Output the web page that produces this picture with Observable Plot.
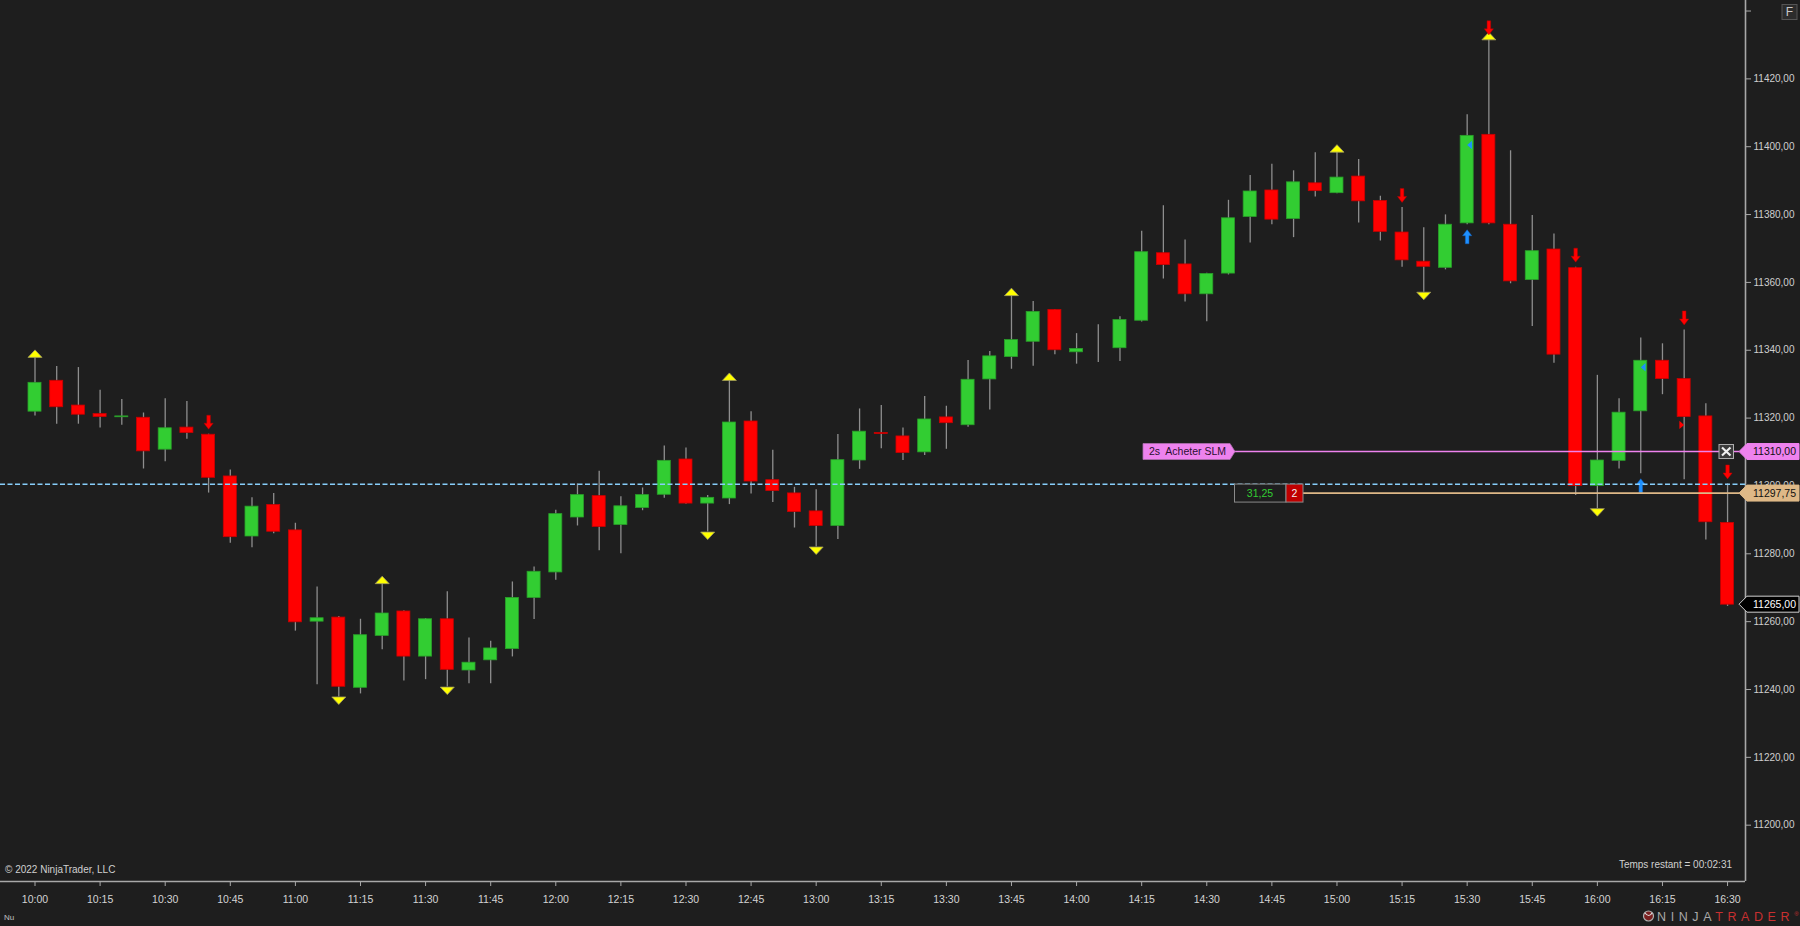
<!DOCTYPE html>
<html><head><meta charset="utf-8">
<script src="https://cdn.jsdelivr.net/npm/d3@7"></script>
<script src="https://cdn.jsdelivr.net/npm/@observablehq/plot@0.6"></script>
<style>
html,body{margin:0;padding:0;background:#1e1e1e;overflow:hidden;}
#chart svg{display:block;}
</style></head><body><div id="chart"></div>
<script>
// ---- data (5-minute bars) ----
const barTimes = ["10:00","10:05","10:10","10:15","10:20","10:25","10:30","10:35","10:40","10:45","10:50","10:55",
  "11:00","11:05","11:10","11:15","11:20","11:25","11:30","11:35","11:40","11:45","11:50","11:55",
  "12:00","12:05","12:10","12:15","12:20","12:25","12:30","12:35","12:40","12:45","12:50","12:55",
  "13:00","13:05","13:10","13:15","13:20","13:25","13:30","13:35","13:40","13:45","13:50","13:55",
  "14:00","14:05","14:10","14:15","14:20","14:25","14:30","14:35","14:40","14:45","14:50","14:55",
  "15:00","15:05","15:10","15:15","15:20","15:25","15:30","15:35","15:40","15:45","15:50","15:55",
  "16:00","16:05","16:10","16:15","16:20","16:25","16:30"];
const openP = [11321.9,11331.0,11323.7,11321.2,11320.25,11320.1,11310.7,11317.2,11315.1,11302.8,11285.1,11294.4,
  11286.9,11260.0,11261.2,11240.5,11255.8,11263.0,11249.7,11260.7,11245.6,11248.6,11251.9,11267.0,
  11274.5,11290.7,11297.0,11288.5,11293.5,11297.4,11307.8,11294.8,11296.3,11319.0,11301.7,11297.8,
  11292.5,11288.2,11307.5,11315.6,11314.6,11309.9,11320.2,11317.9,11331.4,11338.0,11342.5,11351.9,
  11339.4,11340.75,11340.6,11348.7,11368.6,11365.3,11356.5,11362.6,11379.3,11387.1,11378.7,11389.2,
  11386.3,11391.2,11384.0,11374.7,11366.1,11364.3,11377.4,11403.5,11377.0,11360.7,11369.7,11364.2,
  11300.0,11307.4,11322.0,11336.9,11331.5,11320.5,11289.1];
const highP = [11337.9,11335.2,11334.9,11328.2,11325.5,11321.5,11325.7,11324.9,11315.25,11304.7,11296.5,11297.8,
  11289.0,11270.2,11261.5,11260.7,11271.2,11263.2,11260.9,11268.8,11255.2,11254.2,11271.7,11276.1,
  11292.8,11300.6,11304.3,11296.8,11299.4,11311.8,11311.2,11297.2,11331.1,11321.9,11310.5,11299.6,
  11298.9,11315.2,11322.7,11323.7,11317.1,11326.4,11323.5,11337.0,11339.6,11356.1,11354.4,11352.0,
  11344.9,11347.5,11349.9,11375.1,11382.6,11372.5,11362.7,11384.2,11391.5,11394.8,11392.9,11398.2,
  11398.4,11396.2,11385.4,11382.1,11376.1,11379.9,11409.4,11431.5,11398.8,11379.7,11374.3,11364.5,
  11332.6,11325.7,11343.6,11341.9,11346.0,11324.2,11300.6];
const lowP = [11320.6,11318.2,11318.2,11317.1,11317.9,11305.0,11307.1,11313.8,11297.9,11283.1,11281.8,11285.9,
  11257.2,11241.4,11237.8,11238.7,11251.7,11242.5,11242.9,11240.7,11241.7,11241.7,11249.6,11260.6,
  11272.2,11288.2,11280.9,11280.0,11292.7,11296.4,11294.6,11286.4,11294.5,11297.6,11295.1,11287.6,
  11282.0,11284.2,11304.9,11311.0,11307.5,11309.0,11310.8,11317.3,11322.4,11334.4,11335.3,11338.7,
  11335.9,11336.4,11336.7,11348.3,11361.0,11354.2,11348.4,11362.2,11371.6,11377.0,11373.2,11385.2,
  11386.1,11377.5,11372.2,11364.5,11357.1,11363.7,11377.0,11377.0,11359.6,11347.0,11336.2,11297.2,
  11293.3,11305.0,11303.6,11326.9,11301.8,11284.1,11264.5];
const closeP = [11330.4,11323.2,11321.0,11320.3,11320.5,11310.2,11317.0,11315.6,11302.4,11284.9,11293.9,11286.5,
  11259.8,11261.0,11240.8,11256.0,11262.4,11249.7,11260.7,11245.8,11247.9,11252.1,11267.0,11274.7,
  11291.7,11297.3,11287.9,11294.0,11297.3,11307.4,11294.8,11296.5,11318.7,11301.3,11298.5,11292.3,
  11288.2,11307.6,11316.0,11315.3,11309.7,11319.6,11318.5,11331.3,11338.2,11343.0,11351.3,11340.0,
  11340.4,11340.75,11348.9,11368.9,11365.1,11356.5,11362.5,11378.9,11386.8,11378.5,11389.5,11386.9,
  11390.9,11383.9,11374.9,11366.5,11364.6,11377.0,11403.2,11377.4,11360.3,11369.2,11338.7,11300.0,
  11307.5,11321.6,11336.9,11331.5,11320.3,11289.3,11265.0];

// signal markers
const swingHighTimes = ["10:00","11:20","12:40","13:45","15:00","15:35"];
const swingLowTimes  = ["11:10","11:35","12:35","13:00","15:20","16:00"];
const sellArrowTimes = ["10:40","15:15","15:35","15:55","16:20","16:30"];
const buyArrowTimes  = ["15:30","16:10"];
const buyFillTimes   = ["15:30","16:10"];
const buyFillPrices  = [11400.5, 11335.0];
const sellFillTimes  = ["16:20"];
const sellFillPrices = [11318.0];

// horizontal levels
const avgLinePrice = 11300.5;
const orderPrice = 11310.00;
const positionPrice = 11297.75;
const lastPrice = 11265.00;
const orderLabel = "2s  Acheter SLM";
const pnlLabel = "31,25";
const qtyLabel = "2";

// axes
const xTickLabels = ["10:00","10:15","10:30","10:45","11:00","11:15","11:30","11:45","12:00","12:15","12:30","12:45",
  "13:00","13:15","13:30","13:45","14:00","14:15","14:30","14:45","15:00","15:15","15:30","15:45","16:00","16:15","16:30"];
const yTickValues = [11200,11220,11240,11260,11280,11300,11320,11340,11360,11380,11400,11420,11440];

// ---- build ----
const toDate = s => { const [h, m] = s.split(":").map(Number); return new Date(Date.UTC(2022, 0, 3, h, m)); };
const candles = barTimes.map((t, i) => ({t: toDate(t), o: openP[i], h: highP[i], l: lowP[i], c: closeP[i]}));
const byTime = new Map(barTimes.map((t, i) => [t, candles[i]]));
const pick = arr => arr.map(t => byTime.get(t));
const fmtPrice = v => v.toFixed(2).replace(".", ",");

const GREEN = "#32cd32", RED = "#ff0000";
const halfBody = 90 * 1000;

const sym = pts => ({draw(ctx) { ctx.moveTo(pts[0][0], pts[0][1]); for (let k = 1; k < pts.length; k++) ctx.lineTo(pts[k][0], pts[k][1]); ctx.closePath(); }});
const triUp = sym([[-7,0],[7,0],[0,-7.5]]);
const triDown = sym([[-7,0],[7,0],[0,7.5]]);
const arrowDown = sym([[-1.8,-19],[1.8,-19],[1.8,-11],[4.6,-11],[0,-5],[-4.6,-11],[-1.8,-11]]);
const arrowUp = sym([[-1.8,19],[1.8,19],[1.8,11],[4.6,11],[0,5],[-4.6,11],[-1.8,11]]);
const fillLeft = sym([[0,0],[4.8,-4.2],[4.8,4.2]]);
const fillRight = sym([[0,0],[-4.8,-4.2],[-4.8,4.2]]);

const xDomain = [new Date(Date.UTC(2022,0,3,9,52,3)), new Date(Date.UTC(2022,0,3,16,34,8))];
const yDomain = [11183.4, 11443.1];

const chart = Plot.plot({
  width: 1800, height: 926,
  marginLeft: 0, marginRight: 55, marginTop: 0, marginBottom: 45,
  style: {background: "#1e1e1e", fontFamily: "'Liberation Sans', Arial, sans-serif", fontSize: "10px", color: "#d0d0d0", overflow: "visible"},
  x: {type: "utc", domain: xDomain, axis: null, label: null},
  y: {domain: yDomain, axis: null, label: null},
  marks: [
    Plot.axisX({ticks: xTickLabels.map(toDate), tickFormat: d3.utcFormat("%H:%M"), tickSize: 5, tickPadding: 9, label: null,
      stroke: "#a8a8a8", fill: "#d4d4d4", fontSize: 10.5}),
    Plot.axisY({anchor: "right", ticks: yTickValues, tickFormat: v => v === 11440 ? "" : fmtPrice(v), tickSize: 5, tickPadding: 3, label: null,
      stroke: "#a8a8a8", fill: "#cfcfcf", fontSize: 10}),
    Plot.ruleY([yDomain[0]], {stroke: "#a8a8a8", strokeWidth: 1.6}),
    Plot.ruleX([xDomain[1]], {stroke: "#a8a8a8", strokeWidth: 1.6}),
    // wicks
    Plot.ruleX(candles, {x: "t", y1: "l", y2: "h", stroke: "#8e8e8e", strokeWidth: 1.3}),
    // bodies
    Plot.rect(candles, {x1: d => new Date(+d.t - halfBody), x2: d => new Date(+d.t + halfBody), y1: "o", y2: "c",
      fill: d => d.c >= d.o ? GREEN : RED, stroke: d => d.c >= d.o ? "#2a9e2a" : "#c80000", strokeWidth: 0.8}),
    // swing markers
    Plot.dot(pick(swingHighTimes), {x: "t", y: "h", r: 1, symbol: triUp, fill: "#ffff00", stroke: "#a09a60", strokeWidth: 0.8}),
    Plot.dot(pick(swingLowTimes), {x: "t", y: "l", r: 1, symbol: triDown, fill: "#ffff00", stroke: "#a09a60", strokeWidth: 0.8}),
    Plot.dot(pick(sellArrowTimes), {x: "t", y: "h", r: 1, symbol: arrowDown, fill: "#ff0000", stroke: "#b00000", strokeWidth: 0.5}),
    Plot.dot(pick(buyArrowTimes), {x: "t", y: "l", r: 1, symbol: arrowUp, fill: "#1e90ff", stroke: "#1060c0", strokeWidth: 0.5}),
    Plot.dot(buyFillTimes.map((t, i) => ({t: toDate(t), p: buyFillPrices[i]})), {x: "t", y: "p", r: 1, symbol: fillLeft, fill: "#1e90ff"}),
    Plot.dot(sellFillTimes.map((t, i) => ({t: toDate(t), p: sellFillPrices[i]})), {x: "t", y: "p", r: 1, symbol: fillRight, fill: "#ff0000"}),
    // average price line
    Plot.ruleY([avgLinePrice], {stroke: "#87cefa", strokeWidth: 1.5, strokeDasharray: "5,2.5"})
  ]
});
document.getElementById("chart").appendChild(chart);

// ---- overlays positioned with Plot's scales ----
const svg = d3.select(chart);
const ys = chart.scale("y");
const Y = v => ys.apply(v);
const frameRight = 1745;
const font = "'Liberation Sans', Arial, sans-serif";
const g = svg.append("g").attr("font-family", font).attr("text-anchor", "start");

// order line (pink)
const yo = Y(orderPrice);
g.append("line").attr("x1", 1234).attr("x2", frameRight - 6).attr("y1", yo).attr("y2", yo).attr("stroke", "#ee82ee").attr("stroke-width", 1.6);
g.append("path").attr("d", `M1143,${yo-8}H1230L1235,${yo}L1230,${yo+8}H1143Z`).attr("fill", "#ee82ee").attr("stroke", "#b070b0").attr("stroke-width", 0.8);
g.append("text").attr("x", 1149).attr("y", yo).attr("dy", "0.35em").attr("font-size", 10.5).attr("fill", "#2a1030")
  .attr("text-anchor", "start").style("white-space", "pre").attr("xml:space", "preserve").text(orderLabel);
// close X box
g.append("rect").attr("x", 1719).attr("y", yo - 7).attr("width", 14.5).attr("height", 14).attr("fill", "#3a3a3a").attr("stroke", "#b0b0b0").attr("stroke-width", 1);
g.append("path").attr("d", `M1722,${yo-4}L1730.5,${yo+4}M1730.5,${yo-4}L1722,${yo+4}`).attr("stroke", "#f0f0f0").attr("stroke-width", 2.2);

// position line (tan)
const yp = Y(positionPrice);
g.append("line").attr("x1", 1303).attr("x2", frameRight - 6).attr("y1", yp).attr("y2", yp).attr("stroke", "#deb887").attr("stroke-width", 1.6);
g.append("rect").attr("x", 1234.5).attr("y", yp - 9).attr("width", 51.5).attr("height", 18).attr("fill", "#1e1e1e").attr("stroke", "#8a8a8a").attr("stroke-width", 1);
g.append("text").attr("x", 1260).attr("y", yp).attr("dy", "0.35em").attr("text-anchor", "middle").attr("font-size", 10.5).attr("fill", GREEN).text(pnlLabel);
g.append("rect").attr("x", 1286).attr("y", yp - 9).attr("width", 17).attr("height", 18).attr("fill", "#c00000").attr("stroke", "#8a8a8a").attr("stroke-width", 1);
g.append("text").attr("x", 1294.5).attr("y", yp).attr("dy", "0.35em").attr("text-anchor", "middle").attr("font-size", 10.5).attr("fill", "#f0f0f0").text(qtyLabel);

// price tags on the axis
function tag(price, fill, stroke, color) {
  const y = Y(price);
  g.append("path").attr("d", `M${frameRight-6},${y}L${frameRight+2},${y-8}H1799V${y+8}H${frameRight+2}Z`)
    .attr("fill", fill).attr("stroke", stroke).attr("stroke-width", 1);
  g.append("text").attr("x", 1753).attr("y", y).attr("dy", "0.35em").attr("text-anchor", "start").attr("font-size", 10.5).attr("fill", color).text(fmtPrice(price));
}
tag(orderPrice, "#ee82ee", "#ee82ee", "#101010");
tag(positionPrice, "#deb887", "#deb887", "#101010");
tag(lastPrice, "#000000", "#d0d0d0", "#ffffff");

// footer texts
g.append("text").attr("x", 5).attr("y", 873).attr("text-anchor", "start").attr("font-size", 10).attr("fill", "#d0d0d0").text("© 2022 NinjaTrader, LLC");
g.append("text").attr("x", 1732).attr("y", 867.5).attr("text-anchor", "end").attr("font-size", 10).attr("fill", "#d0d0d0").text("Temps restant = 00:02:31");
g.append("text").attr("x", 4).attr("y", 920).attr("text-anchor", "start").attr("font-size", 8).attr("fill", "#c0c0c0").text("Nu");

// F button
g.append("rect").attr("x", 1782).attr("y", 4.5).attr("width", 15).attr("height", 15).attr("fill", "#2c2c2c").attr("stroke", "#555").attr("stroke-width", 1);
g.append("text").attr("x", 1789.5).attr("y", 12).attr("dy", "0.36em").attr("text-anchor", "middle").attr("font-size", 12).attr("fill", "#c8c8c8").text("F");

// NinjaTrader logo
g.append("circle").attr("cx", 1648.5).attr("cy", 916).attr("r", 5).attr("fill", "#7a2020").attr("stroke", "#b0b0b0").attr("stroke-width", 1.2);
g.append("path").attr("d", "M1645,913Q1649,918 1652,913").attr("fill", "none").attr("stroke", "#e0e0e0").attr("stroke-width", 1.2);
const logo = g.append("text").attr("x", 1657).attr("y", 921).attr("text-anchor", "start").attr("font-size", 12.5).attr("letter-spacing", "4.6px");
logo.append("tspan").attr("fill", "#a8a8a8").text("NINJA");
logo.append("tspan").attr("fill", "#c83030").text("TRADER");
logo.append("tspan").attr("fill", "#c83030").attr("font-size", 6).attr("dy", -5).attr("letter-spacing", "0px").text("®");
</script></body></html>
